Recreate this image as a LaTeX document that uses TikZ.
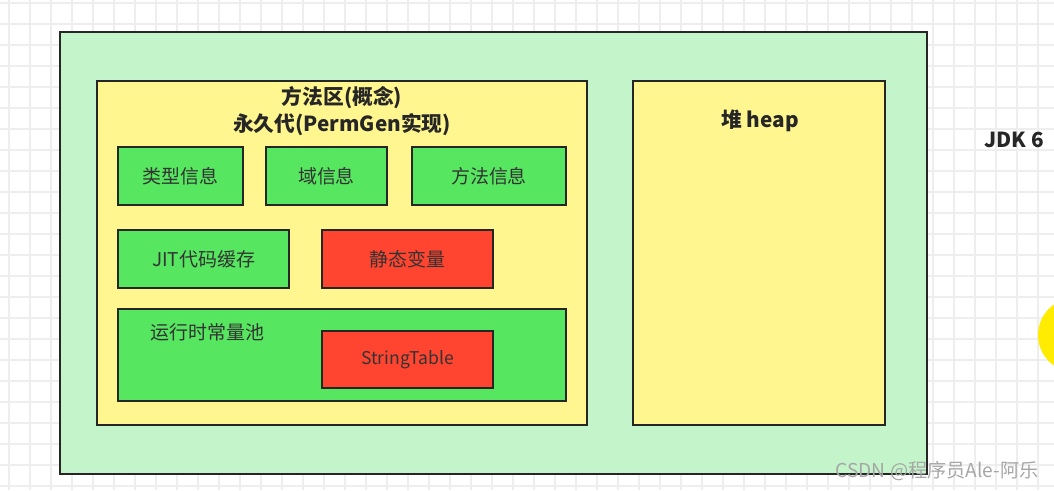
\documentclass[tikz,border=0pt]{standalone}
\usepackage{fontspec}
\setmainfont{Noto Sans CJK SC}
\usetikzlibrary{positioning}
\definecolor{jvmgreen}{RGB}{196,245,202}
\definecolor{areayellow}{RGB}{255,246,143}
\definecolor{partgreen}{RGB}{86,230,96}
\definecolor{partred}{RGB}{255,68,48}
\definecolor{sunyellow}{RGB}{255,236,0}

\begin{document}
\begin{tikzpicture}[
    x=0.2mm, y=-0.2mm,
    base/.style={draw=black!85, line width=1.25pt, inner sep=0pt},
    jvm/.style={base, fill=jvmgreen},
    area/.style={base, fill=areayellow},
    part/.style={base, fill=partgreen, text=black!80, font=\fontsize{10.8pt}{12pt}\selectfont},
    hotpart/.style={part, fill=partred},
    title/.style={align=center, text=black!85, font=\bfseries\fontsize{11.8pt}{15.3pt}\selectfont},
    gridline/.style={gray!13, line width=0.6pt}
]
    \useasboundingbox (0,0) rectangle (1054,490);

    % --- BACKGROUND GRID ---
    \foreach \gx in {9,30,...,1052} \draw[gridline] (\gx,0) -- (\gx,490);
    \foreach \gy in {3,24,...,489} \draw[gridline] (0,\gy) -- (1054,\gy);
    \fill[sunyellow] (1075,335) circle[radius=7.4mm];

    % --- JVM FRAME ---
    \node[jvm, minimum width=173.4mm, minimum height=88.4mm] (jvm) at (493.5,253) {};
    \node[title] (jdk) at (1014,140) {JDK 6};

    % --- METHOD AREA ---
    \node[area, minimum width=98mm, minimum height=68.8mm] (method) at (342,253) {};
    \node[title] (methodtitle) at (342,111) {方法区(概念)\\永久代(PermGen实现)};

    \node[part, minimum width=25mm, minimum height=11.6mm] (typeinfo) at (180.5,176) {类型信息};
    \node[part, minimum width=24.2mm, minimum height=11.6mm] (fieldinfo) at (326.5,176) {域信息};
    \node[part, minimum width=30.8mm, minimum height=11.6mm] (methodinfo) at (489,176) {方法信息};

    \node[part, minimum width=34.2mm, minimum height=11.6mm] (jit) at (203.5,259) {JIT代码缓存};
    \node[hotpart, minimum width=34.2mm, minimum height=11.6mm] (static) at (407.5,259) {静态变量};

    \node[part, minimum width=89.6mm, minimum height=18.4mm] (pool) at (342,355) {};
    \node[anchor=west, text=black!80, font=\fontsize{10.8pt}{12pt}\selectfont] (pooltitle) at (144,332) {运行时常量池};
    \node[hotpart, minimum width=34.2mm, minimum height=11.4mm, font=\fontsize{10pt}{12pt}\selectfont] (stringtable) at (407.5,359.5) {StringTable};

    % --- HEAP ---
    \node[area, minimum width=50.4mm, minimum height=68.8mm] (heap) at (759,253) {};
    \node[title] (heaptitle) at (760,121) {堆 heap};

    % --- WATERMARK ---
    \node[text=gray!70, font=\fontsize{10.9pt}{12pt}\selectfont] (mark) at (937,471) {CSDN @程序员Ale-阿乐};
\end{tikzpicture}
\end{document}
